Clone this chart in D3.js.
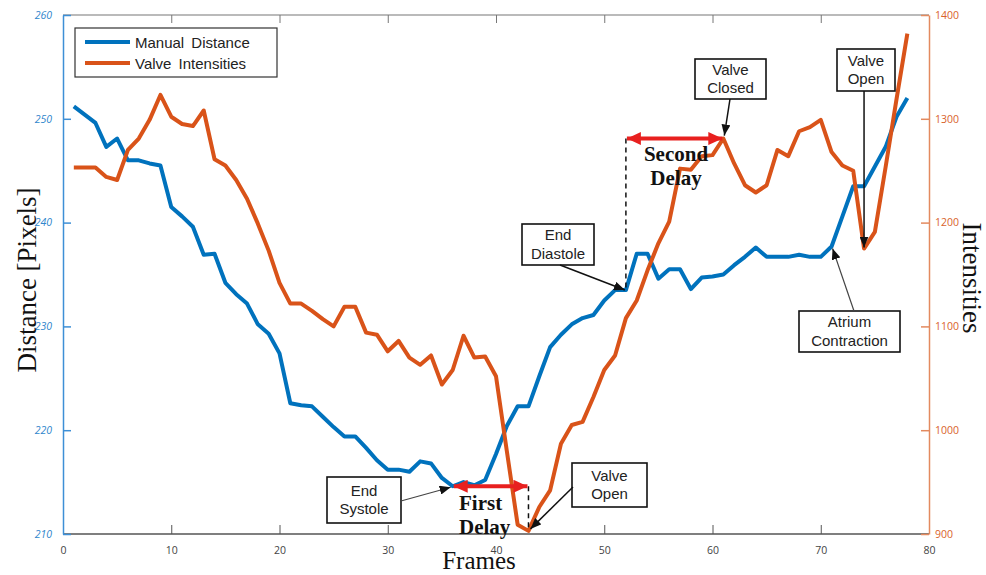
<!DOCTYPE html>
<html>
<head>
<meta charset="utf-8">
<script src="https://cdn.jsdelivr.net/npm/d3@7"></script>
<style>
  html, body { margin: 0; padding: 0; background: #fff; }
  svg { display: block; }
</style>
</head>
<body>
<svg id="chart" width="986" height="575"></svg>
<script>
// Manual distance (pixels) per frame, frames 1..78
const distance = [
  251.2, 250.4, 249.6, 247.3, 248.1, 246.0, 246.0, 245.7, 245.5, 241.5,
  240.6, 239.6, 236.9, 237.0, 234.2, 233.1, 232.2, 230.2, 229.3, 227.4,
  222.6, 222.4, 222.3, 221.3, 220.3, 219.4, 219.4, 218.3, 217.1, 216.2,
  216.2, 216.0, 217.0, 216.8, 215.4, 214.6, 215.0, 214.7, 215.2, 217.7,
  220.4, 222.3, 222.3, 225.2, 228.0, 229.2, 230.2, 230.8, 231.1, 232.5,
  233.5, 233.5, 237.0, 237.0, 234.6, 235.5, 235.5, 233.6, 234.7, 234.8,
  235.0, 235.9, 236.7, 237.6, 236.7, 236.7, 236.7, 236.9, 236.7, 236.7,
  237.7, 240.6, 243.5, 243.5, 245.4, 247.3, 250.2, 252.0
];
// Valve intensities per frame, frames 1..78
const intensity = [
  1253, 1253, 1253, 1244, 1241, 1270, 1281, 1299, 1323, 1302,
  1295, 1293, 1308, 1261, 1255, 1241, 1223, 1199, 1173, 1142,
  1122, 1122, 1115, 1107, 1100, 1119, 1119, 1094, 1092, 1076,
  1086, 1070, 1063, 1072, 1044, 1058, 1091, 1070, 1071, 1052,
  980, 909, 903, 926, 942, 987, 1005, 1008, 1032, 1058,
  1072, 1108, 1125, 1154, 1180, 1201, 1252, 1251, 1264, 1265,
  1281, 1257, 1236, 1229, 1236, 1270, 1264, 1288, 1292, 1299,
  1268, 1255, 1250, 1175, 1191, 1254, 1319, 1382
];
const xTicks = [0, 10, 20, 30, 40, 50, 60, 70, 80];
const leftTicks = [210, 220, 230, 240, 250, 260];
const rightTicks = [900, 1000, 1100, 1200, 1300, 1400];
const seriesNames = ["Manual Distance", "Valve Intensities"];

// Key frames used by the annotations
const endSystoleFrame = 36;
const valveOpenFrame = 43;
const endDiastoleFrame = 52;
const valveClosedFrame = 61;
const atriumFrame = 71;
const valveOpen2Frame = 74;

const BLUE = "#0072bd", ORANGE = "#d95319";
const svg = d3.select("#chart");
const L = 63, R = 929, T = 15, B = 534;

const x = d3.scaleLinear().domain([0, 80]).range([L, R]);
const yL = d3.scaleLinear().domain([210, 260]).range([B, T]);
const yR = d3.scaleLinear().domain([900, 1400]).range([B, T]);

const defs = svg.append("defs");
function marker(id, color, w, h) {
  defs.append("marker").attr("id", id)
    .attr("viewBox", `0 0 ${w} ${h}`).attr("refX", w).attr("refY", h / 2)
    .attr("markerWidth", w).attr("markerHeight", h)
    .attr("markerUnits", "userSpaceOnUse").attr("orient", "auto-start-reverse")
    .append("path").attr("d", `M0,0 L${w},${h / 2} L0,${h} Z`).attr("fill", color);
}
marker("ahBlack", "#111", 11, 9);
marker("ahRed", "#e8201f", 14, 13);

// Frame box: top and bottom axes (gray), inward ticks
svg.append("line").attr("x1", L).attr("x2", R).attr("y1", T).attr("y2", T)
  .attr("stroke", "#777").attr("stroke-width", 1.2);
svg.append("line").attr("x1", L).attr("x2", R).attr("y1", B).attr("y2", B)
  .attr("stroke", "#555").attr("stroke-width", 1.4);

const bottomAxis = svg.append("g").attr("transform", `translate(0,${B})`)
  .call(d3.axisBottom(x).tickValues(xTicks).tickSizeInner(-9).tickSizeOuter(0).tickPadding(13));
bottomAxis.select(".domain").remove();
bottomAxis.selectAll("line").attr("stroke", "#555");
bottomAxis.selectAll("text").attr("fill", "#444").style("font", "10.5px 'Open Sans', sans-serif");

const topAxis = svg.append("g").attr("transform", `translate(0,${T})`)
  .call(d3.axisTop(x).tickValues(xTicks.slice(1, -1)).tickSizeInner(-8).tickSizeOuter(0).tickFormat(""));
topAxis.select(".domain").remove();
topAxis.selectAll("line").attr("stroke", "#777");

const leftAxis = svg.append("g").attr("transform", `translate(${L},0)`)
  .call(d3.axisLeft(yL).tickValues(leftTicks).tickSizeInner(-8).tickSizeOuter(0).tickPadding(11)
    .tickFormat(d3.format("d")));
leftAxis.select(".domain").attr("stroke", "#3d8fd6").attr("stroke-width", 1.5);
leftAxis.selectAll("line").attr("stroke", "#3d8fd6").attr("stroke-width", 1.5);
leftAxis.selectAll("text").attr("fill", "#2f86cc").style("font", "italic 10.5px 'Open Sans', sans-serif");

const rightAxis = svg.append("g").attr("transform", `translate(${R},0)`)
  .call(d3.axisRight(yR).tickValues(rightTicks).tickSizeInner(-8).tickSizeOuter(0).tickPadding(6)
    .tickFormat(d3.format("d")));
rightAxis.select(".domain").attr("stroke", "#e38a5f").attr("stroke-width", 1.5);
rightAxis.selectAll("line").attr("stroke", "#e38a5f").attr("stroke-width", 1.5);
rightAxis.selectAll("text").attr("fill", "#d9622b").style("font", "10.5px 'Open Sans', sans-serif");

// Axis titles
const serif = "'Liberation Serif', 'DejaVu Serif', serif";
svg.append("text").attr("transform", "translate(36,280) rotate(-90)")
  .attr("text-anchor", "middle").style("font", `27px ${serif}`).attr("fill", "#111")
  .text("Distance [Pixels]");
svg.append("text").attr("transform", "translate(963,278) rotate(90)")
  .attr("text-anchor", "middle").style("font", `27px ${serif}`).attr("fill", "#111")
  .text("Intensities");
svg.append("text").attr("x", 479).attr("y", 569)
  .attr("text-anchor", "middle").style("font", `25px ${serif}`).attr("fill", "#111")
  .text("Frames");

// Data lines
const lineL = d3.line().x((d, i) => x(i + 1)).y(d => yL(d));
const lineR = d3.line().x((d, i) => x(i + 1)).y(d => yR(d));
svg.append("path").datum(distance).attr("d", lineL)
  .attr("fill", "none").attr("stroke", BLUE).attr("stroke-width", 4).attr("stroke-linejoin", "round");
svg.append("path").datum(intensity).attr("d", lineR)
  .attr("fill", "none").attr("stroke", ORANGE).attr("stroke-width", 4).attr("stroke-linejoin", "round");

// Legend
const lg = svg.append("g");
lg.append("rect").attr("x", 75).attr("y", 28).attr("width", 202).attr("height", 49)
  .attr("fill", "#fff").attr("stroke", "#333").attr("stroke-width", 1.2);
[BLUE, ORANGE].forEach((c, i) => {
  const yy = 42 + i * 21;
  lg.append("line").attr("x1", 85).attr("x2", 130).attr("y1", yy).attr("y2", yy)
    .attr("stroke", c).attr("stroke-width", 4);
  lg.append("text").attr("x", 135).attr("y", yy + 6)
    .style("font", "15px 'Liberation Sans', Arial, sans-serif").style("word-spacing", "3px")
    .attr("fill", "#222").text(seriesNames[i]);
});

// Annotation helpers
function box(x0, y0, w, h, lines) {
  const g = svg.append("g");
  g.append("rect").attr("x", x0).attr("y", y0).attr("width", w).attr("height", h)
    .attr("fill", "#fff").attr("stroke", "#111").attr("stroke-width", 1.6);
  const lh = 18.5;
  const start = y0 + h / 2 - (lines.length - 1) * lh / 2 + 5;
  lines.forEach((t, i) => g.append("text").attr("x", x0 + w / 2).attr("y", start + i * lh)
    .attr("text-anchor", "middle").style("font", "15px 'Liberation Sans', Arial, sans-serif")
    .attr("fill", "#222").text(t));
}
function arrow(x1, y1, x2, y2, color, width) {
  svg.append("line").attr("x1", x1).attr("y1", y1).attr("x2", x2).attr("y2", y2)
    .attr("stroke", color || "#111").attr("stroke-width", width || 1.5)
    .attr("marker-end", "url(#ahBlack)");
}
function boldLabel(cx, y0, lines, anchor) {
  lines.forEach((t, i) => svg.append("text").attr("x", cx).attr("y", y0 + i * 24)
    .attr("text-anchor", anchor || "middle").style("font", `bold 21px ${serif}`)
    .attr("fill", "#111").text(t));
}

// First delay: end systole (distance) to valve opening (intensity)
const esX = x(endSystoleFrame), esY = yL(distance[endSystoleFrame - 1]);
const voX = x(valveOpenFrame), voY = yR(intensity[valveOpenFrame - 1]);
svg.append("line").attr("x1", voX).attr("x2", voX).attr("y1", esY).attr("y2", voY)
  .attr("stroke", "#111").attr("stroke-width", 1.5).attr("stroke-dasharray", "5,4");
svg.append("line").attr("x1", esX + 1).attr("x2", voX - 1).attr("y1", esY).attr("y2", esY)
  .attr("stroke", "#e8201f").attr("stroke-width", 4)
  .attr("marker-start", "url(#ahRed)").attr("marker-end", "url(#ahRed)");
boldLabel(459, 510, ["First", "Delay"], "start");

box(327, 477, 74, 46, ["End", "Systole"]);
arrow(401, 501, esX - 2, esY + 1, "#444", 1.2);
box(572, 463, 75, 44, ["Valve", "Open"]);
arrow(573, 487, voX + 2, voY - 2);

// Second delay: end diastole (distance) to valve closing (intensity)
const edX = x(endDiastoleFrame), edY = yL(distance[endDiastoleFrame - 1]);
const vcX = x(valveClosedFrame), vcY = yR(intensity[valveClosedFrame - 1]);
svg.append("line").attr("x1", edX).attr("x2", edX).attr("y1", vcY).attr("y2", edY)
  .attr("stroke", "#111").attr("stroke-width", 1.5).attr("stroke-dasharray", "5,4");
svg.append("line").attr("x1", edX + 1).attr("x2", vcX - 1).attr("y1", vcY).attr("y2", vcY)
  .attr("stroke", "#e8201f").attr("stroke-width", 4)
  .attr("marker-start", "url(#ahRed)").attr("marker-end", "url(#ahRed)");
boldLabel(676, 161, ["Second", "Delay"]);

box(522, 224, 72, 41, ["End", "Diastole"]);
arrow(560, 265, edX - 1, edY);
box(695, 59, 71, 40, ["Valve", "Closed"]);
arrow(730, 99, vcX + 1, vcY - 3);

// Second valve opening and atrium contraction
const vo2X = x(valveOpen2Frame), vo2Y = yR(intensity[valveOpen2Frame - 1]);
box(837, 49, 58, 42, ["Valve", "Open"]);
arrow(vo2X, 91, vo2X, vo2Y - 1);
const acX = x(atriumFrame), acY = yL(distance[atriumFrame - 1]);
box(799, 311, 101, 41, ["Atrium", "Contraction"]);
arrow(854, 311, acX + 1, acY + 2, "#444", 1.2);
</script>
</body>
</html>
